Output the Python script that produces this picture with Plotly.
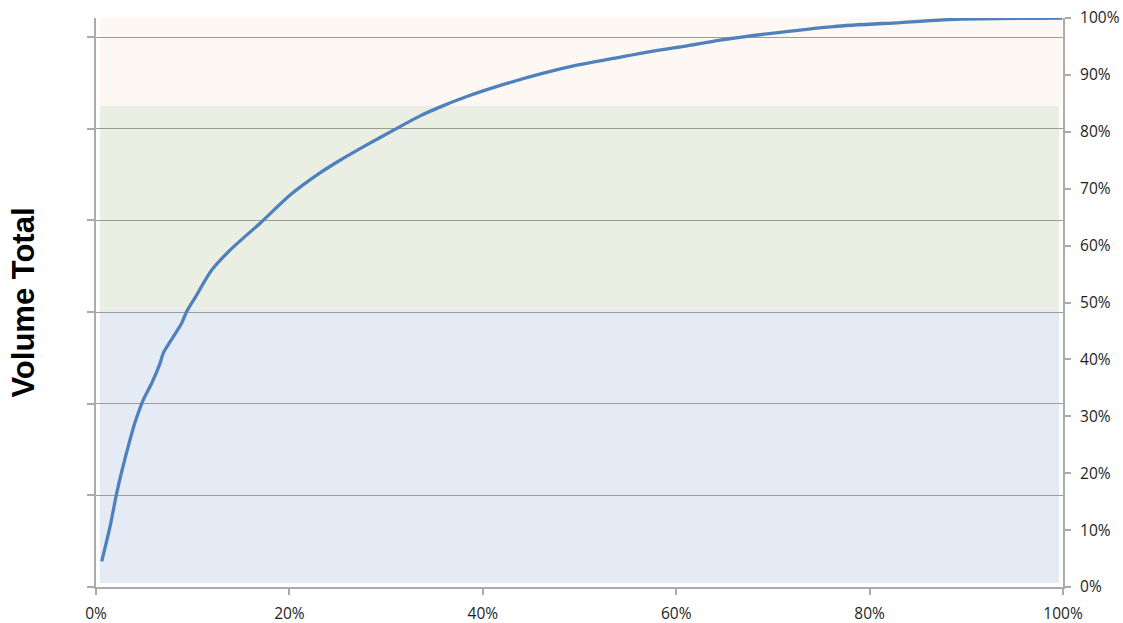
import plotly.graph_objects as go

# Cumulative share of items (x) vs cumulative share of volume (y)
item_share = [0.0059, 0.0145, 0.0214, 0.0266, 0.0352, 0.0403, 0.0489, 0.0576,
              0.0662, 0.0696, 0.0800, 0.0887, 0.0938, 0.1030, 0.1197, 0.1386,
              0.1714, 0.2007, 0.2283, 0.2524, 0.2800, 0.3111, 0.3352, 0.3593,
              0.3835, 0.4249, 0.4627, 0.4973, 0.5351, 0.5731, 0.6075, 0.6455,
              0.6938, 0.7627, 0.8317, 0.8938, 0.9993]
volume_share = [0.045, 0.106, 0.165, 0.203, 0.259, 0.289, 0.329, 0.358,
                0.393, 0.411, 0.440, 0.464, 0.484, 0.510, 0.557, 0.592,
                0.642, 0.689, 0.724, 0.750, 0.777, 0.806, 0.828, 0.846,
                0.862, 0.885, 0.903, 0.917, 0.929, 0.941, 0.950, 0.961,
                0.972, 0.985, 0.992, 0.998, 1.000]

# ABC class bands: (x0, x1, y0, y1, colour)
band_names = ["A", "B", "C"]
band_x0 = [0.004, 0.004, 0.004]
band_x1 = [0.996, 0.996, 0.999]
band_y0 = [0.007, 0.489, 0.846]
band_y1 = [0.489, 0.846, 1.000]
band_colors = ["#E4EBF5", "#EBEEE2", "#FDF8F4"]

# Left axis: unlabeled scale that carries the gridlines
left_axis_max = 6.21
left_ticks = [0, 1, 2, 3, 4, 5, 6]

x_ticks = [0, 0.2, 0.4, 0.6, 0.8, 1.0]
y2_ticks = [0, 0.1, 0.2, 0.3, 0.4, 0.5, 0.6, 0.7, 0.8, 0.9, 1.0]

axis_grey = "#ABABAB"
grid_grey = "#9C9C94"
text_col = "#1E1E1E"
tick_font = dict(family="Open Sans", size=15.5, color=text_col)

fig = go.Figure()

# Invisible trace to activate the left axis
fig.add_trace(go.Scatter(x=[0, 1], y=[0, left_axis_max], mode="none",
                         showlegend=False, hoverinfo="skip", yaxis="y"))

fig.add_trace(go.Scatter(x=item_share, y=volume_share, mode="lines",
                         line=dict(color="#4F81BD", width=3.3,
                                   shape="spline", smoothing=0.8),
                         showlegend=False, yaxis="y2"))

for name, x0, x1, y0, y1, col in zip(band_names, band_x0, band_x1,
                                     band_y0, band_y1, band_colors):
    fig.add_shape(type="rect", xref="x", yref="y2", x0=x0, x1=x1, y0=y0, y1=y1,
                  fillcolor=col, line=dict(width=0), layer="below", name=name)

fig.update_layout(
    width=1123, height=623,
    margin=dict(l=96, r=60, t=18, b=36),
    paper_bgcolor="white", plot_bgcolor="rgba(0,0,0,0)",
    xaxis=dict(range=[0, 1], tickvals=x_ticks, tickformat=".0%",
               automargin=False, showgrid=False, zeroline=False,
               showline=True, linecolor=axis_grey, linewidth=2,
               ticks="outside", ticklen=6, tickcolor=axis_grey, tickwidth=1.5,
               ticklabelstandoff=5, tickfont=tick_font),
    yaxis=dict(range=[0, left_axis_max], tickvals=left_ticks,
               automargin=False, showticklabels=False,
               showgrid=True, gridcolor=grid_grey,
               gridwidth=1.3, zeroline=False,
               showline=True, linecolor=axis_grey, linewidth=2,
               ticks="outside", ticklen=7, tickcolor=axis_grey, tickwidth=1.5,
               title=dict(text="<b>Volume Total</b>", standoff=43,
                          font=dict(family="Liberation Sans", size=31,
                                    color="black"))),
    yaxis2=dict(range=[0, 1], tickvals=y2_ticks, tickformat=".0%",
                automargin=False,
                overlaying="y", side="right", showgrid=False, zeroline=False,
                showline=True, linecolor=axis_grey, linewidth=2,
                ticks="outside", ticklen=6, tickcolor=axis_grey, tickwidth=1.5,
                ticklabelstandoff=6, tickfont=tick_font),
)

fig.write_html("out.html")
